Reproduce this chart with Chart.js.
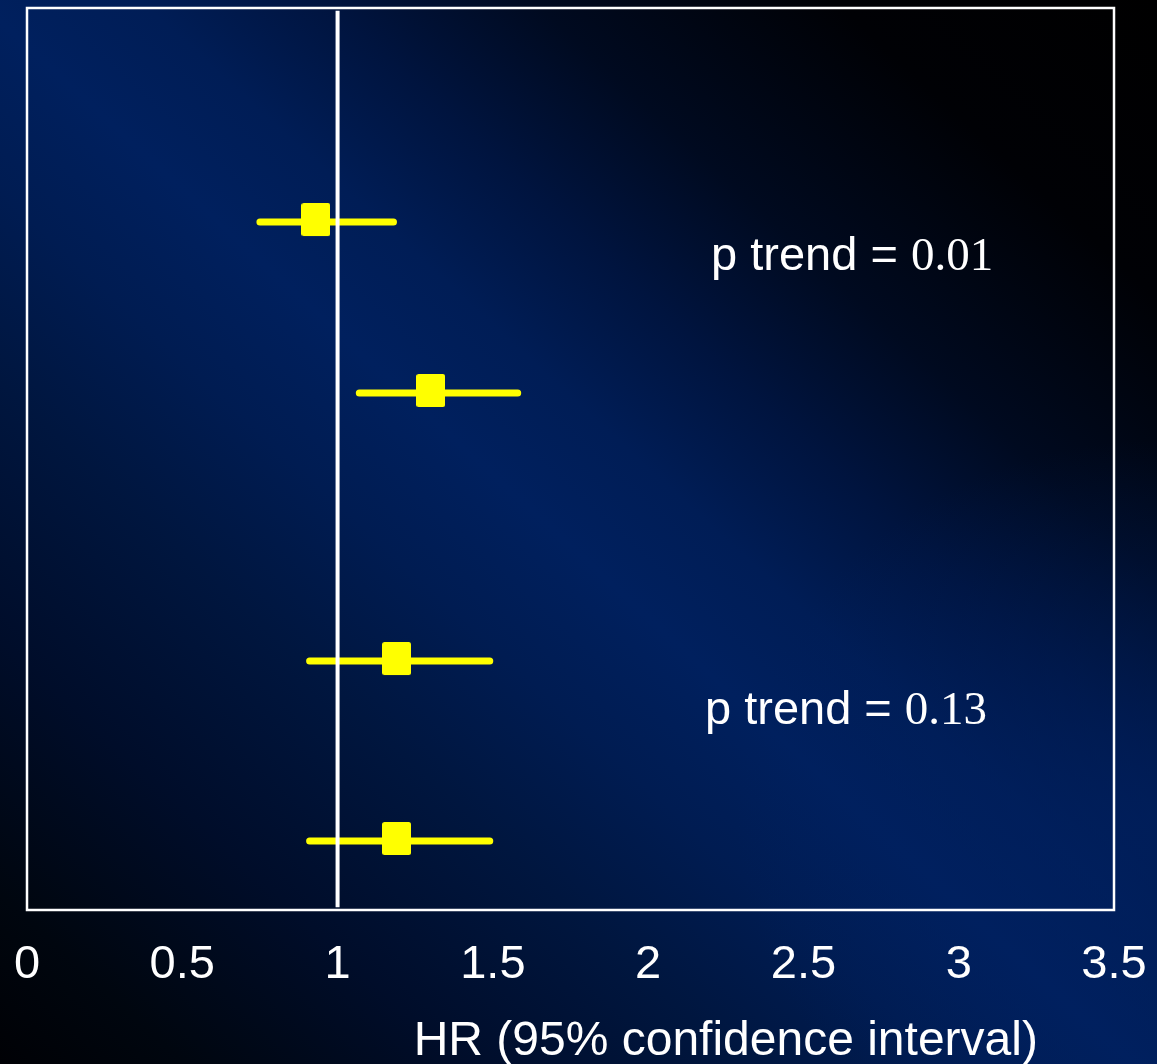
<!DOCTYPE html>
<html>
<head>
<meta charset="utf-8">
<script src="https://cdn.jsdelivr.net/npm/chart.js@4"></script>
<style>
html, body { margin: 0; padding: 0; }
body {
  width: 1157px; height: 1064px; overflow: hidden;
  background:
    radial-gradient(ellipse 420px 380px at 1157px 820px, rgba(0,32,96,0.75), rgba(0,32,96,0) 100%),
    linear-gradient(to bottom left,
      #000000 0%, #000105 14%, #000a20 27%, #00143f 36%, #001d56 44%, #00205e 51%,
      #001c52 59%, #00163f 68%, #000d2a 80%, #00060f 92%, #000105 100%);
}
canvas { display: block; }
</style>
</head>
<body>
<canvas id="c" width="1157" height="1064"></canvas>
<script>
// ---- data ----
const rowPos   = [2.373, 4.268, 7.24, 9.235];   // vertical position of each estimate row
const hr       = [0.93, 1.30, 1.19, 1.19];
const ciLow    = [0.75, 1.07, 0.91, 0.91];
const ciHigh   = [1.18, 1.58, 1.49, 1.49];
const xTicks   = [0, 0.5, 1, 1.5, 2, 2.5, 3, 3.5];
const refValue = 1;
const pTrendValues = ['0.01', '0.13'];
const pTrendLabel  = 'p trend = ';
const axisTitle    = 'HR (95% confidence interval)';

// ---- layout of annotations (in data units) ----
const pTrendPos = [{ x: 2.2025, y: 2.905 }, { x: 2.183, y: 7.94 }];
const titlePos  = { x: 2.25 };

const SANS  = '"Liberation Sans", Arial, sans-serif';
const SERIF = '"Liberation Serif", "Times New Roman", serif';
const YELLOW = '#ffff00';

function makeSquare(w, h, lift) {
  const c = document.createElement('canvas');
  c.width = w; c.height = h + lift * 2;
  const g = c.getContext('2d');
  g.fillStyle = YELLOW;
  g.beginPath();
  if (g.roundRect) g.roundRect(0, 0, w, h, 2.5); else g.rect(0, 0, w, h);
  g.fill();
  return c;
}
const squareImg = makeSquare(29, 33, 2.5);

const datasets = [];
datasets.push({
  data: [{ x: refValue, y: 0.03 }, { x: refValue, y: 9.97 }],
  showLine: true, borderColor: '#ffffff', borderWidth: 4,
  pointRadius: 0, order: 0
});
hr.forEach((v, i) => {
  datasets.push({
    data: [{ x: ciLow[i], y: rowPos[i] }, { x: ciHigh[i], y: rowPos[i] }],
    showLine: true, borderColor: YELLOW, borderWidth: 7,
    borderCapStyle: 'round', pointRadius: 0, order: 2
  });
});
datasets.push({
  data: hr.map((v, i) => ({ x: v, y: rowPos[i] })),
  showLine: false, pointStyle: squareImg, pointRadius: 16,
  pointBackgroundColor: YELLOW, order: 1
});

const framePlugin = {
  id: 'frame',
  beforeDatasetsDraw(chart) {
    const { ctx, chartArea: a } = chart;
    ctx.save();
    ctx.strokeStyle = '#ffffff';
    ctx.lineWidth = 2.5;
    ctx.strokeRect(a.left, a.top, a.right - a.left, a.bottom - a.top);
    ctx.restore();
  }
};

const textPlugin = {
  id: 'texts',
  afterDraw(chart) {
    const { ctx } = chart;
    const xs = chart.scales.x, ys = chart.scales.y;
    ctx.save();
    ctx.fillStyle = '#ffffff';
    ctx.textBaseline = 'alphabetic';
    ctx.textAlign = 'left';
    pTrendValues.forEach((val, i) => {
      const px = xs.getPixelForValue(pTrendPos[i].x);
      const py = ys.getPixelForValue(pTrendPos[i].y);
      ctx.font = '47px ' + SANS;
      ctx.fillText(pTrendLabel, px, py);
      const w = ctx.measureText(pTrendLabel).width;
      ctx.font = '47px ' + SERIF;
      ctx.fillText(val, px + w, py);
    });
    ctx.font = '48px ' + SANS;
    ctx.textAlign = 'center';
    ctx.fillText(axisTitle, xs.getPixelForValue(titlePos.x), 1055);
    ctx.restore();
  }
};

const zeroPad = s => { s.paddingLeft = 0; s.paddingRight = 0; s.paddingTop = 0; s.paddingBottom = 0; };

new Chart(document.getElementById('c'), {
  type: 'scatter',
  data: { datasets },
  options: {
    responsive: false,
    animation: false,
    layout: { autoPadding: false, padding: { left: 27, right: 43, top: 8, bottom: 0 } },
    plugins: { legend: { display: false }, tooltip: { enabled: false } },
    scales: {
      x: {
        type: 'linear', min: 0, max: 3.5,
        afterBuildTicks: s => { s.ticks = xTicks.map(v => ({ value: v })); },
        afterFit: s => { s.height = 154; zeroPad(s); },
        ticks: {
          color: '#ffffff', padding: 27, maxRotation: 0, autoSkip: false,
          font: { family: SANS, size: 47 },
          callback: v => String(v)
        },
        grid: { display: false, drawTicks: false },
        border: { display: false }
      },
      y: {
        display: false, min: 0, max: 10, reverse: true,
        afterFit: s => { zeroPad(s); }
      }
    }
  },
  plugins: [framePlugin, textPlugin]
});
</script>
</body>
</html>
